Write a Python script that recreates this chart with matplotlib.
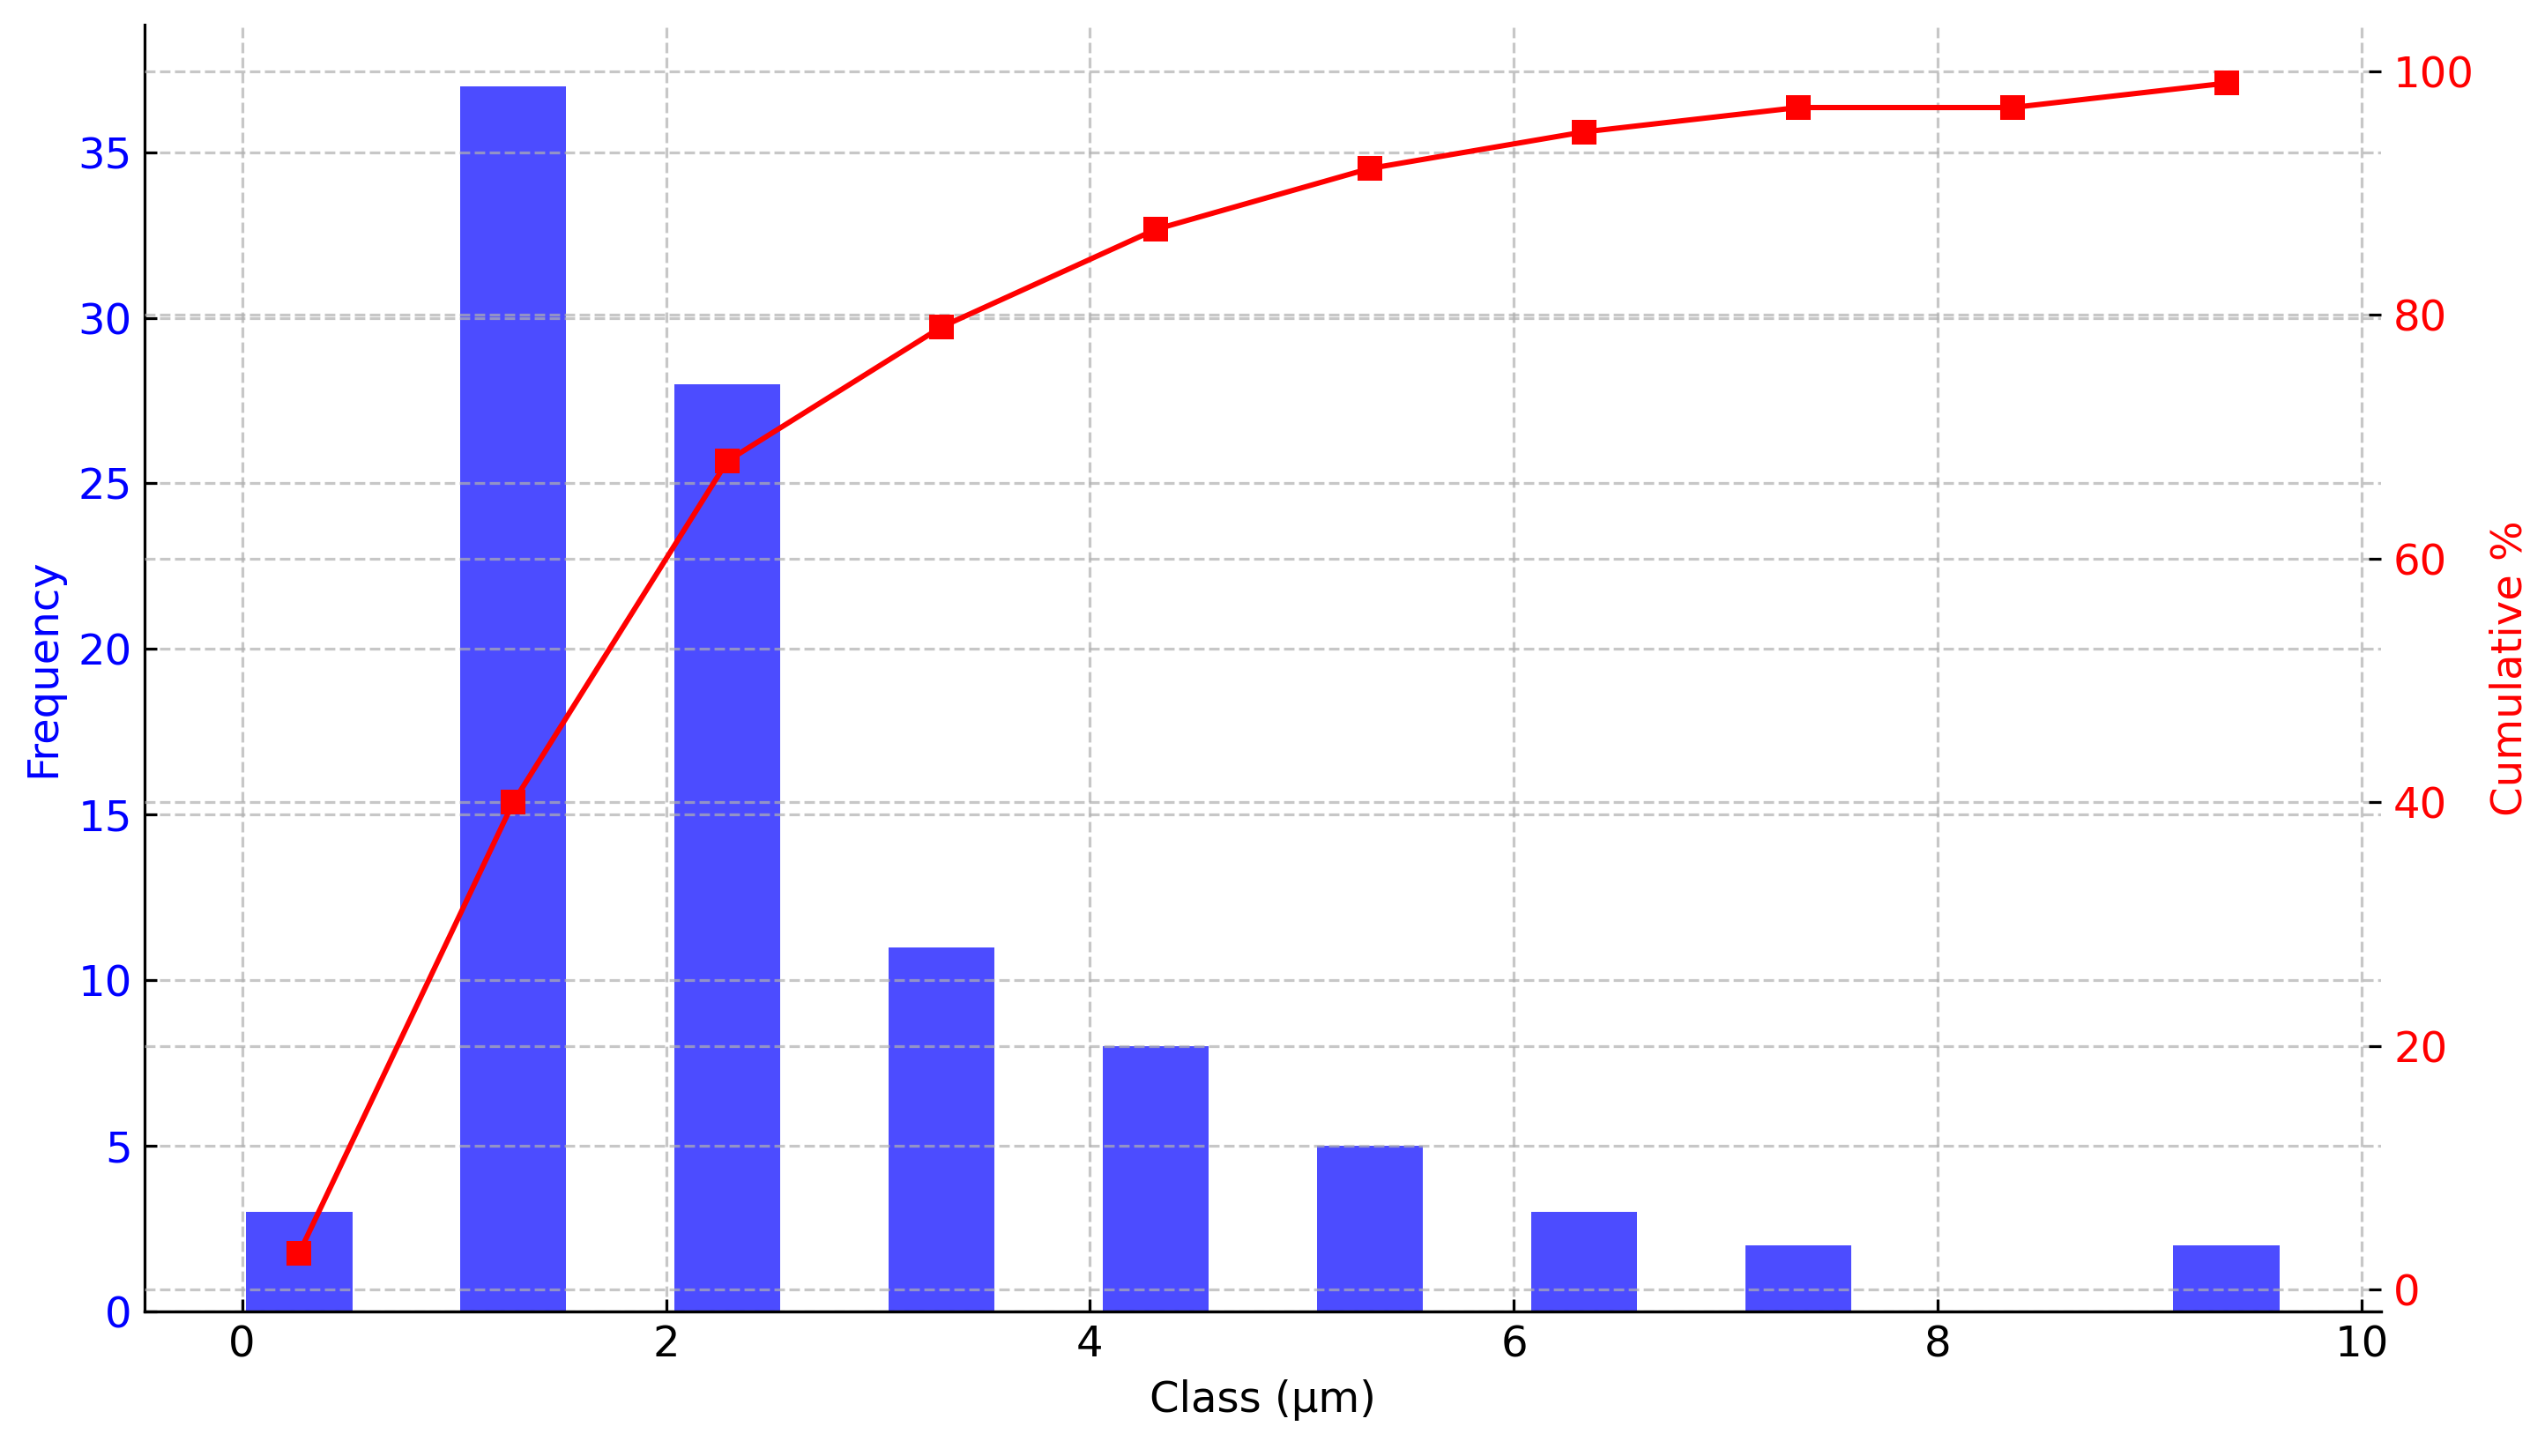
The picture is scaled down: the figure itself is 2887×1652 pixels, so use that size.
import numpy as np
import matplotlib
matplotlib.use("Agg")
import matplotlib.pyplot as plt

# class left edges (um), counts per class, cumulative %
class_edges = [0.02, 1.03, 2.04, 3.05, 4.06, 5.07, 6.08, 7.09, 8.10, 9.11]
frequency = [3, 37, 28, 11, 8, 5, 3, 2, 0, 2]
cumulative = [3, 40, 68, 79, 87, 92, 95, 97, 97, 99]

bar_width = 0.5
DPI = 288.7
FS = 12

fig = plt.figure(figsize=(2887 / DPI, 1652 / DPI), dpi=DPI)
ax1 = fig.add_axes([164 / 2887, 1 - 1488 / 1652, (2701 - 164) / 2887, (1488 - 28) / 1652])

ax1.bar(class_edges, frequency, width=bar_width, align='edge', color='blue', alpha=0.7)
ax1.set_xlabel('Class (µm)', fontsize=FS)
ax1.set_ylabel('Frequency', color='blue', fontsize=FS)
ax1.tick_params(axis='y', labelcolor='blue', labelsize=FS, direction='in')
ax1.tick_params(axis='x', labelsize=FS, direction='in')
ax1.grid(True, linestyle='--', alpha=0.7)

ax2 = ax1.twinx()
centers = np.array(class_edges) + bar_width / 2
ax2.plot(centers, cumulative, color='red', marker='s', linewidth=1.5, markersize=6)
ax2.set_ylabel('Cumulative %', color='red', fontsize=FS)
ax2.tick_params(axis='y', labelcolor='red', labelsize=FS, direction='in')
ax2.grid(True, linestyle='--', alpha=0.7)

for ax in (ax1, ax2):
    ax.spines['top'].set_visible(False)
    ax.spines['right'].set_visible(False)
ax2.spines['left'].set_visible(False)

fig.savefig('out.png', dpi=DPI)
